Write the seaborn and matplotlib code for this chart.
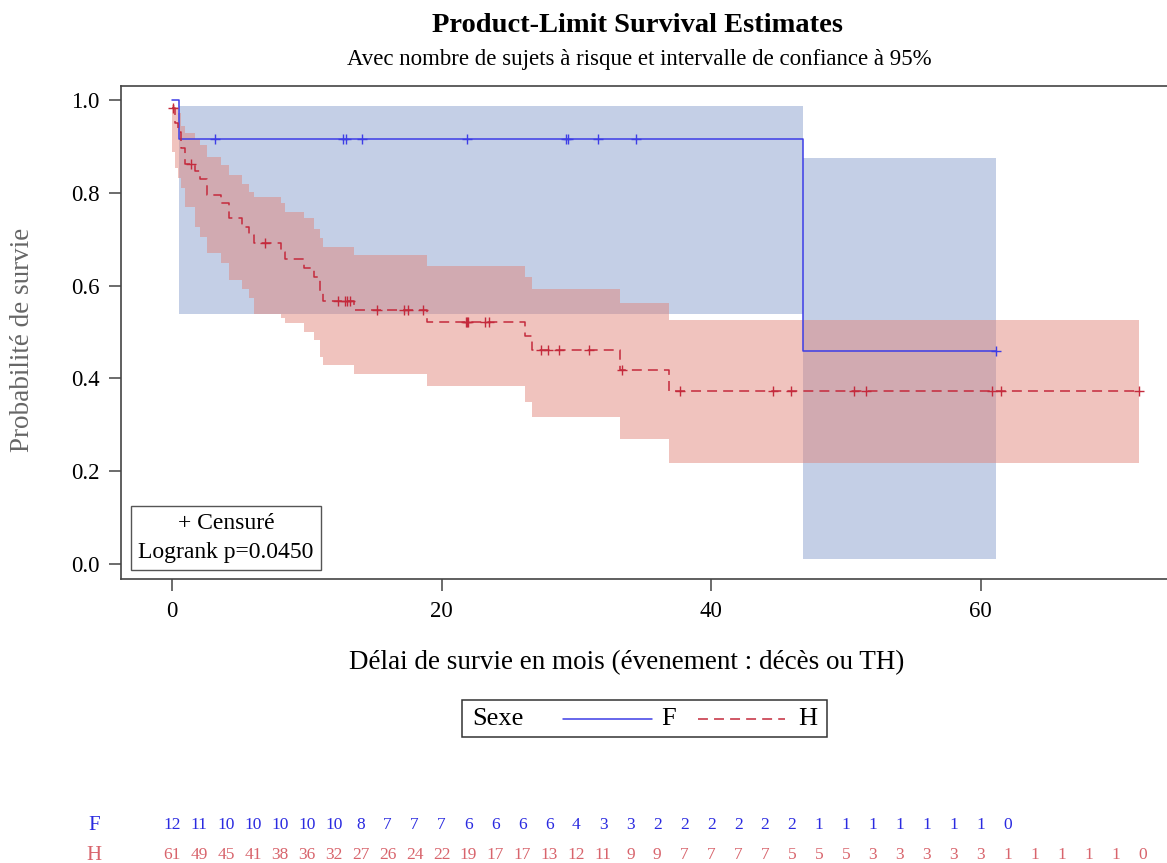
import numpy as np
import pandas as pd
import matplotlib
matplotlib.use("Agg")
import matplotlib.pyplot as plt
import matplotlib.transforms as mtrans
from matplotlib.patches import Rectangle
from matplotlib.lines import Line2D
import seaborn as sns

# ---------------- data ----------------
groups = ["F", "H"]

f_times = [0.0, 0.5, 46.8]
f_surv = [1.0, 0.917, 0.458]
f_lower = [1.0, 0.539, 0.010]
f_upper = [1.0, 0.987, 0.876]
f_end = 61.1
f_censor = [3.2, 12.7, 12.9, 14.1, 21.9, 29.2, 29.4, 31.6, 34.4, 61.1]

h_times = [0.0, 0.2, 0.45, 0.7, 1.0, 1.7, 2.05, 2.6, 3.6, 4.2, 5.2, 5.7, 6.1,
           8.1, 8.4, 9.8, 10.5, 11.0, 11.2, 13.5, 18.9, 26.2, 26.7, 33.2, 36.9]
h_surv = [0.983, 0.95, 0.932, 0.897, 0.862, 0.847, 0.829, 0.795, 0.777, 0.745,
          0.727, 0.709, 0.691, 0.673, 0.657, 0.639, 0.619, 0.584, 0.567, 0.547,
          0.522, 0.491, 0.461, 0.418, 0.373]
h_lower = [0.889, 0.853, 0.831, 0.81, 0.77, 0.727, 0.705, 0.670, 0.648, 0.612,
           0.592, 0.573, 0.539, 0.530, 0.519, 0.501, 0.483, 0.447, 0.429, 0.409,
           0.384, 0.350, 0.316, 0.269, 0.218]
h_upper = [0.99, 0.985, 0.971, 0.943, 0.928, 0.917, 0.903, 0.878, 0.86, 0.838,
           0.820, 0.802, 0.792, 0.777, 0.759, 0.745, 0.723, 0.702, 0.684, 0.665,
           0.643, 0.619, 0.593, 0.562, 0.526]
h_end = 71.7
h_censor = [0.05, 1.4, 6.9, 12.3, 12.8, 13.0, 13.2, 15.2, 17.2, 17.5, 18.6,
            21.8, 21.9, 21.95, 23.2, 23.5, 27.4, 27.9, 28.7, 30.9, 33.4, 37.7,
            44.6, 45.9, 50.6, 51.5, 60.8, 61.5, 71.7]

risk_times = [0, 2, 4, 6, 8, 10, 12, 14, 16, 18, 20, 22, 24, 26, 28, 30, 32,
              34, 36, 38, 40, 42, 44, 46, 48, 50, 52, 54, 56, 58, 60, 62, 64,
              66, 68, 70, 72]
f_risk = [12, 11, 10, 10, 10, 10, 10, 8, 7, 7, 7, 6, 6, 6, 6, 4, 3, 3, 2, 2,
          2, 2, 2, 2, 1, 1, 1, 1, 1, 1, 1, 0]
h_risk = [61, 49, 45, 41, 38, 36, 32, 27, 26, 24, 22, 19, 17, 17, 13, 12, 11,
          9, 9, 7, 7, 7, 7, 5, 5, 5, 3, 3, 3, 3, 3, 1, 1, 1, 1, 1, 0]

x_ticks = [0, 20, 40, 60]
y_ticks = [0.0, 0.2, 0.4, 0.6, 0.8, 1.0]

# ---------------- styling ----------------
line_col = {"F": "#3d3de6", "H": "#c42a3c"}
band_col = {"F": (132/255, 155/255, 203/255), "H": (224/255, 130/255, 120/255)}
text_col = {"F": "#2a2ae0", "H": "#d8646c"}

sns.set_theme(style="ticks")
plt.rcParams["font.family"] = ["Liberation Serif", "DejaVu Serif"]
plt.rcParams["text.color"] = "black"

W, H = 1167, 863
fig = plt.figure(figsize=(W / 100, H / 100), dpi=100)
ax = fig.add_axes([121 / W, 1 - 579 / H, (W - 121) / W, (579 - 86) / H])

# confidence bands
def band(times, end, lo, up, key):
    t = list(times) + [end]
    lo2 = list(lo) + [lo[-1]]
    up2 = list(up) + [up[-1]]
    ax.fill_between(t, lo2, up2, step="post", color=band_col[key],
                    alpha=0.48, linewidth=0, zorder=1)

band(f_times[1:], f_end, f_lower[1:], f_upper[1:], "F")
band(h_times, h_end, h_lower, h_upper, "H")

# survival curves
rows = []
for g, tt, ss, end in [("F", f_times, f_surv, f_end), ("H", h_times, h_surv, h_end)]:
    for t, s in zip(list(tt) + [end], list(ss) + [ss[-1]]):
        rows.append({"time": t, "surv": s, "Sexe": g})
df = pd.DataFrame(rows)

sns.lineplot(data=df, x="time", y="surv", hue="Sexe", style="Sexe",
             palette=line_col, dashes={"F": "", "H": (6.5, 4.0)},
             drawstyle="steps-post", estimator=None, sort=False,
             linewidth=1.1, legend=False, ax=ax, zorder=3)

# censored marks
cens_rows = []
for g, tt, ss, cc in [("F", f_times, f_surv, f_censor), ("H", h_times, h_surv, h_censor)]:
    idx = np.searchsorted(np.array(tt), np.array(cc), side="right") - 1
    for c, i in zip(cc, idx):
        cens_rows.append({"time": c, "surv": ss[i], "Sexe": g})
cdf = pd.DataFrame(cens_rows)
for g in groups:
    sub = cdf[cdf["Sexe"] == g]
    ax.plot(sub["time"], sub["surv"], linestyle="none", marker="+",
            markersize=7, markeredgewidth=1.0, color=line_col[g], zorder=4)

ax.set_xlim((121 - 172) / 13.48, (W - 172) / 13.48)
ax.set_ylim((564 - 579) / 464, (564 - 86) / 464)
ax.set_xticks(x_ticks)
ax.set_yticks(y_ticks)
ax.set_xticklabels([str(v) for v in x_ticks])
ax.set_yticklabels([f"{v:.1f}" for v in y_ticks])
ax.tick_params(axis="both", labelsize=16.5, length=8.5, width=1.1,
               color="#444444", labelcolor="black", pad=7)
ax.set_xlabel("")
ax.set_ylabel("")
for side in ["left", "bottom", "top"]:
    ax.spines[side].set_color("#444444")
    ax.spines[side].set_linewidth(1.2)
ax.spines["right"].set_visible(False)
ax.grid(False)
ax.set_facecolor("white")

# titles and labels
fig.text(638 / W, 1 - 26 / H, "Product-Limit Survival Estimates", ha="center",
         va="center", fontsize=20.5, fontweight="bold", color="black")
fig.text(639 / W, 1 - 60 / H,
         "Avec nombre de sujets à risque et intervalle de confiance à 95%",
         ha="center", va="center", fontsize=16.5, color="black")
fig.text(627 / W, 1 - 663 / H,
         "Délai de survie en mois (évenement : décès ou TH)",
         ha="center", va="center", fontsize=19.5, color="black")
fig.text(23 / W, 1 - 340 / H, "Probabilité de survie", rotation=90,
         ha="center", va="center", fontsize=19.5, color="#666666")

# censored / logrank inset
fig.text(226 / W, 1 - 538 / H, "+ Censuré\nLogrank p=0.0450", ha="center",
         va="center", fontsize=17, linespacing=1.45, multialignment="center",
         color="black",
         bbox=dict(boxstyle="square,pad=0.3", fc="white", ec="#555555", lw=1))

# legend (Sexe)
fig.patches.append(Rectangle((462 / W, 1 - 737 / H), 365 / W, 37 / H,
                             transform=fig.transFigure, fill=False,
                             ec="#333333", lw=1.1))
fig.text(472 / W, 1 - 719 / H, "Sexe", ha="left", va="center", fontsize=19,
         color="black")
fig.lines.append(Line2D([563 / W, 652 / W], [1 - 719 / H, 1 - 719 / H],
                        transform=fig.transFigure, color=line_col["F"], lw=1.1))
fig.text(669 / W, 1 - 719 / H, "F", ha="center", va="center", fontsize=19,
         color="black")
fig.lines.append(Line2D([698 / W, 785 / W], [1 - 719 / H, 1 - 719 / H],
                        transform=fig.transFigure, color=line_col["H"], lw=1.1,
                        dashes=(6.5, 4.0)))
fig.text(808 / W, 1 - 719 / H, "H", ha="center", va="center", fontsize=19,
         color="black")

# at-risk table
trans = mtrans.blended_transform_factory(ax.transData, fig.transFigure)
row_y = {"F": 1 - 825 / H, "H": 1 - 855 / H}
for g, counts in [("F", f_risk), ("H", h_risk)]:
    fig.text(94 / W, row_y[g], g, ha="center", va="center", fontsize=15,
             color=text_col[g])
    for t, n in zip(risk_times, counts):
        ax.text(t, row_y[g], str(n), transform=trans, ha="center", va="center",
                fontsize=12.5, color=text_col[g], clip_on=False)

fig.savefig("out.png", dpi=100, facecolor="white")
